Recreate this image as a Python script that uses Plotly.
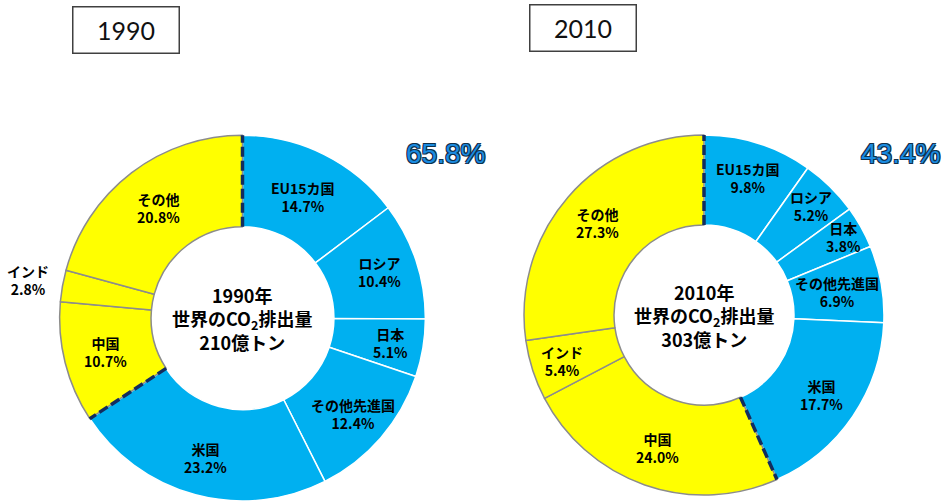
import math
import plotly.graph_objects as go

W, H = 943, 501

# ---------------- data ----------------
categories = ["EU15カ国", "ロシア", "日本", "その他先進国", "米国", "中国", "インド", "その他"]
share_1990 = [14.7, 10.4, 5.1, 12.4, 23.2, 10.7, 2.8, 20.8]
share_2010 = [9.8, 5.2, 3.8, 6.9, 17.7, 24.0, 5.4, 27.3]
is_developed = [True, True, True, True, True, False, False, False]
years = ["1990", "2010"]
totals_oku_ton = ["210", "303"]
developed_totals = ["65.8%", "43.4%"]

# ---------------- style ----------------
BLUE = "#00B0F0"
YELLOW = "#FFFF00"
JP = "Noto Sans CJK JP"
domains = [
    dict(x=[0.0626, 0.4517], y=[0.0, 0.73]),
    dict(x=[0.5557, 0.9374], y=[0.012, 0.7305]),
]
HOLE = 0.5
# radial position of each label as a fraction of the outer radius
label_r = [
    [0.74, 0.79, 0.82, 0.80, 0.79, 0.77, 1.19, 0.76],
    [0.80, 0.85, 0.89, 0.75, 0.79, 0.78, 0.83, 0.78],
]
box_centers_px = [(125.5, 29.5), (582.5, 28.5)]
total_pos_px = [(445, 153), (900, 153)]

fig = go.Figure()
annotations = []
shapes = []


def to_paper(px, py):
    return px / W, 1 - py / H


for i, shares in enumerate([share_1990, share_2010]):
    dom = domains[i]
    colors = [BLUE if d else YELLOW for d in is_developed]
    line_colors = ["#FFFFFF" if d else "#8C8C8C" for d in is_developed]
    fig.add_trace(go.Pie(
        labels=categories,
        values=shares,
        sort=False,
        direction="clockwise",
        rotation=0,
        hole=HOLE,
        domain=dom,
        marker=dict(colors=colors, line=dict(color=line_colors, width=1.5)),
        textinfo="none",
        hoverinfo="label+value",
        showlegend=False,
    ))

    # geometry matching plotly's pie layout
    cx = (dom["x"][0] + dom["x"][1]) / 2 * W
    cy = H - (dom["y"][0] + dom["y"][1]) / 2 * H
    r = min((dom["x"][1] - dom["x"][0]) * W, (dom["y"][1] - dom["y"][0]) * H) / 2
    total = sum(shares)

    # slice labels
    cum = 0.0
    for k, (cat, v) in enumerate(zip(categories, shares)):
        mid = (cum + v / 2) / total * 2 * math.pi
        cum += v
        rr = label_r[i][k] * r
        px = cx + rr * math.sin(mid)
        py = cy - rr * math.cos(mid)
        x, y = to_paper(px, py)
        annotations.append(dict(
            x=x, y=y, xref="paper", yref="paper", xanchor="center", yanchor="middle",
            text=f"{cat}<br>{v:.1f}%", showarrow=False,
            font=dict(family=JP, size=14, color="#000000", weight="bold"),
            align="center",
        ))

    # dashed boundary between developed / developing
    dev_share = sum(v for v, d in zip(shares, is_developed) if d)
    for frac in [0.0, dev_share / total]:
        ang = frac * 2 * math.pi
        x0, y0 = to_paper(cx + HOLE * r * math.sin(ang), cy - HOLE * r * math.cos(ang))
        x1, y1 = to_paper(cx + r * math.sin(ang), cy - r * math.cos(ang))
        shapes.append(dict(type="line", xref="paper", yref="paper",
                           x0=x0, y0=y0, x1=x1, y1=y1,
                           line=dict(color="#132D5E", width=3.5, dash="10px,4px")))

    # center text
    x, y = to_paper(cx, cy)
    annotations.append(dict(
        x=x, y=y, xref="paper", yref="paper", xanchor="center", yanchor="middle",
        showarrow=False,
        text=f"{years[i]}年<br>世界のCO<sub>2</sub>排出量<br>{totals_oku_ton[i]}億トン",
        font=dict(family=JP, size=18, color="#000000", weight="bold"),
        align="center",
    ))

    # year box
    bx, by = to_paper(*box_centers_px[i])
    annotations.append(dict(
        x=bx, y=by, xref="paper", yref="paper", xanchor="center", yanchor="middle",
        showarrow=False,
        text=years[i], width=103, height=43,
        bordercolor="#404040", borderwidth=1.5, bgcolor="#FFFFFF",
        font=dict(family="Lato", size=25, color="#111111"),
        align="center", valign="middle",
    ))

    # developed total
    tx, ty = to_paper(*total_pos_px[i])
    annotations.append(dict(
        x=tx, y=ty, xref="paper", yref="paper", xanchor="center", yanchor="middle",
        showarrow=False,
        text=developed_totals[i],
        font=dict(family="Liberation Sans", size=28, color="#1A8BE0",
                  shadow="-1px -1px 0 #10304A, 1px -1px 0 #10304A, -1px 1px 0 #10304A, 1px 1px 0 #10304A"),
    ))

fig.update_layout(
    width=W, height=H,
    margin=dict(l=0, r=0, t=0, b=0),
    paper_bgcolor="#FFFFFF",
    plot_bgcolor="#FFFFFF",
    annotations=annotations,
    shapes=shapes,
)

fig.write_html("out.html")
